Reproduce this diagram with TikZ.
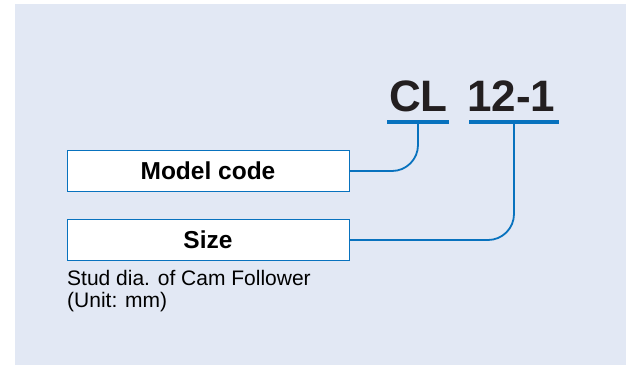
\documentclass[tikz,border=0pt]{standalone}
\usepackage{fontspec}
\setmainfont{Liberation Sans}
\begin{document}
\begin{tikzpicture}[x=1pt,y=-1pt,
  bg/.style={fill=bgblue,draw=none},
  labelbox/.style={draw=kblue,line width=0.9pt,fill=white,minimum width=282pt,minimum height=41pt,inner sep=0pt,font=\fontsize{24.5}{28}\selectfont\bfseries},
  codetext/.style={inner sep=0pt,anchor=base west,text=codeblack,font=\fontsize{44}{50}\selectfont\bfseries},
  uline/.style={draw=kblue,line width=4pt},
  conn/.style={draw=kblue,line width=1.8pt,rounded corners=26pt},
  note/.style={inner sep=0pt,anchor=base west,align=left,font=\fontsize{21}{22}\selectfont}]
\definecolor{bgblue}{HTML}{E2E8F4}
\definecolor{kblue}{HTML}{0872BE}
\definecolor{codeblack}{HTML}{231F20}
\useasboundingbox (0,0) rectangle (626,365);
\fill[bg] (15,4) rectangle (626,365);
% code text
\node[codetext] (cl) at (389,111) {CL};
\node[codetext] (sz) at (467,111) {12-1};
% underlines
\coordinate (u1a) at (387,122); \coordinate (u1b) at (449,122);
\coordinate (u2a) at (469,122); \coordinate (u2b) at (559,122);
\draw[uline] (u1a) -- (u1b);
\draw[uline] (u2a) -- (u2b);
% boxes
\node[labelbox] (model) at (208,171) {Model code};
\node[labelbox] (size) at (208,240) {Size};
% connectors
\coordinate (c1) at (418,122);
\coordinate (c2) at (514,122);
\draw[conn] (c1) |- (model.east);
\draw[conn] (c2) |- (size.east);
% note
\node[note] (stud) at (67,285) {Stud dia. of Cam Follower};
\node[note] (unit) at (67,307) {(Unit: mm)};
\end{tikzpicture}
\end{document}
